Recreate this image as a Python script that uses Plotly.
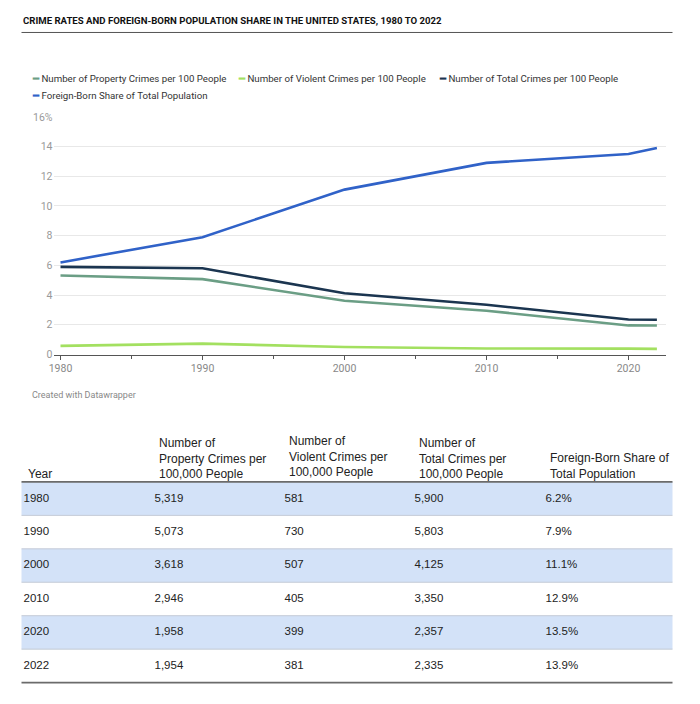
import plotly.graph_objects as go

W, H = 700, 704

years = [1980, 1990, 2000, 2010, 2020, 2022]
property_per_100k = [5319, 5073, 3618, 2946, 1958, 1954]
violent_per_100k = [581, 730, 507, 405, 399, 381]
total_per_100k = [5900, 5803, 4125, 3350, 2357, 2335]
foreign_born_pct = [6.2, 7.9, 11.1, 12.9, 13.5, 13.9]

series_names = [
    "Number of Property Crimes per 100 People",
    "Number of Violent Crimes per 100 People",
    "Number of Total Crimes per 100 People",
    "Foreign-Born Share of Total Population",
]
series_colors = ["#6b9e85", "#a3e060", "#1b3550", "#3062c8"]

y_tick_vals = [0, 2, 4, 6, 8, 10, 12, 14, 16]
y_tick_text = ["0", "2", "4", "6", "8", "10", "12", "14", "16%"]
x_tick_vals = [1980, 1990, 2000, 2010, 2020]

table_headers = [
    "Year",
    "Number of<br>Property Crimes per<br>100,000 People",
    "Number of<br>Violent Crimes per<br>100,000 People",
    "Number of<br>Total Crimes per<br>100,000 People",
    "Foreign-Born Share of<br>Total Population",
]

# the page shows the figure offset/scaled slightly; map target pixels to paper fractions
OX, OY, SW, SH = 12.5, 13.0, 695.0, 692.0


def fx(p):
    return (p - OX) / SW


def fy(p):
    return 1 - (p - OY) / SH


fig = go.Figure()

chart_series = [
    [v / 1000 for v in property_per_100k],
    [v / 1000 for v in violent_per_100k],
    [v / 1000 for v in total_per_100k],
    foreign_born_pct,
]
for name, vals, col in zip(series_names, chart_series, series_colors):
    fig.add_trace(go.Scatter(
        x=years, y=vals, name=name, mode="lines",
        line=dict(color=col, width=2.6),
        xaxis="x", yaxis="y", showlegend=False, hoverinfo="skip",
    ))

rows = list(range(len(years)))
table_cols = [
    [str(y) for y in years],
    [f"{v:,}" for v in property_per_100k],
    [f"{v:,}" for v in violent_per_100k],
    [f"{v:,}" for v in total_per_100k],
    [f"{v}%" for v in foreign_born_pct],
]
col_x = [23, 154, 284, 414, 545]
header_shift = [0, 0, 0.06, 0, 0]
tab_left, tab_right = 21, 672

striped = [r for r in rows if r % 2 == 0]
fig.add_trace(go.Bar(
    y=striped, x=[tab_right - tab_left] * len(striped), base=tab_left,
    orientation="h", width=1.0, marker=dict(color="#d3e2f8", line=dict(width=0)),
    xaxis="x2", yaxis="y2", showlegend=False, hoverinfo="skip",
))
table_font = dict(family="Liberation Sans, Arial, sans-serif", size=11.5, color="#222")
for cx, vals in zip(col_x, table_cols):
    fig.add_trace(go.Scatter(
        x=[cx] * len(vals), y=rows, text=vals, mode="text",
        textposition="middle right", textfont=table_font,
        xaxis="x2", yaxis="y2", showlegend=False, hoverinfo="skip",
    ))

shapes = []
annotations = []

for cx, htxt, sh in zip(col_x, table_headers, header_shift):
    annotations.append(dict(
        xref="x2", yref="y2", x=cx + 2, y=-0.47 - sh, text=htxt, showarrow=False,
        xanchor="left", yanchor="bottom", align="left",
        font=dict(family="Liberation Sans, Arial, sans-serif", size=12, color="#222"),
    ))

for r in rows[:-1]:
    shapes.append(dict(type="line", xref="x2", yref="y2", x0=tab_left, x1=tab_right,
                       y0=r + 0.5, y1=r + 0.5, line=dict(color="#c3cad6", width=1)))
for yy in (-0.5, rows[-1] + 0.5):
    shapes.append(dict(type="line", xref="x2", yref="y2", x0=tab_left, x1=tab_right,
                       y0=yy, y1=yy, line=dict(color="#6b6b6b", width=1.6)))

annotations.append(dict(
    xref="paper", yref="paper", x=fx(20), y=fy(20),
    text="<b>CRIME RATES AND FOREIGN-BORN POPULATION SHARE IN THE UNITED STATES, 1980 TO 2022</b>",
    showarrow=False, xanchor="left", yanchor="middle",
    font=dict(family="Roboto, sans-serif", size=9.6, color="#111"),
))
shapes.append(dict(type="line", xref="paper", yref="paper", x0=fx(21), x1=fx(672),
                   y0=fy(31.5), y1=fy(31.5), line=dict(color="#555", width=1)))

legend_pos = [(29, 78), (235, 78), (436, 78), (29, 95)]
for (lx, ly), name, col in zip(legend_pos, series_names, series_colors):
    annotations.append(dict(
        xref="paper", yref="paper", x=fx(lx), y=fy(ly),
        text=f"<span style='color:{col}'><b>━</b></span> {name}",
        showarrow=False, xanchor="left", yanchor="middle",
        font=dict(family="Roboto, sans-serif", size=9.7, color="#333"),
    ))

annotations.append(dict(
    xref="paper", yref="paper", x=fx(29), y=fy(395),
    text="Created with Datawrapper", showarrow=False, xanchor="left", yanchor="middle",
    font=dict(family="Roboto, sans-serif", size=9, color="#888"),
))

px_per_year = (628 - 60) / 40
x0 = 1980 - (60 - 53) / px_per_year
x1 = 2020 + (665 - 628) / px_per_year

fig.update_layout(
    width=W, height=H, margin=dict(l=0, r=0, t=0, b=0),
    paper_bgcolor="white", plot_bgcolor="white",
    showlegend=False, barmode="overlay",
    xaxis=dict(
        domain=[fx(53), fx(665)], range=[x0, x1],
        tickvals=x_tick_vals, ticktext=[str(v) for v in x_tick_vals],
        showgrid=False, zeroline=False,
        showline=True, linecolor="#555", linewidth=1.3,
        ticks="outside", ticklen=4, tickcolor="#555", tickwidth=1,
        minor=dict(dtick=5, tick0=1980, ticks="outside", ticklen=3, tickcolor="#555", tickwidth=1),
        tickfont=dict(family="Roboto, sans-serif", size=10.5, color="#888"),
        anchor="y",
    ),
    yaxis=dict(
        domain=[fy(354), fy(116)], range=[0, 16],
        tickvals=y_tick_vals, ticktext=y_tick_text,
        showgrid=True, gridcolor="#e8e8e8", gridwidth=1,
        zeroline=False, showline=False, ticks="",
        tickfont=dict(family="Roboto, sans-serif", size=10.5, color="#999"),
        anchor="x",
    ),
    xaxis2=dict(domain=[0, fx(700)], range=[OX, 700], visible=False, anchor="y2",
                fixedrange=True),
    yaxis2=dict(domain=[fy(704), fy(425)], range=[6.14, -2.19], visible=False, anchor="x2",
                fixedrange=True),
    shapes=shapes, annotations=annotations,
)

fig.write_html("out.html")
